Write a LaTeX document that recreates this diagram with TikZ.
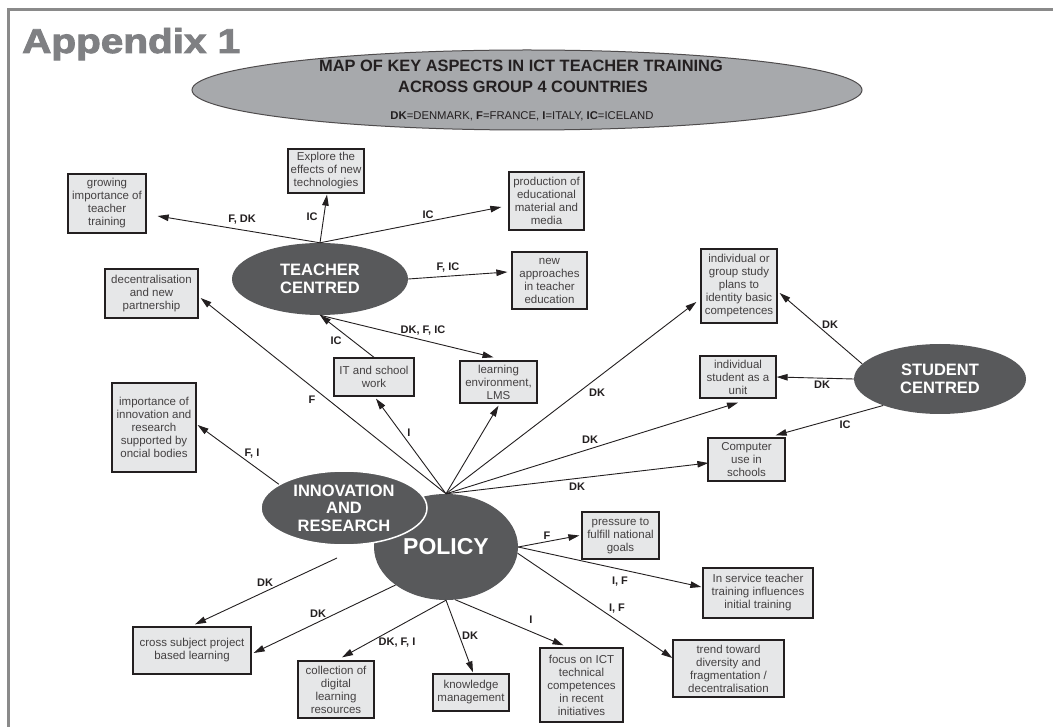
\documentclass[tikz,border=0pt]{standalone}
\usepackage{fontspec}
\setmainfont{Liberation Sans}
\newfontfamily\heavyfont[FakeBold=2.5]{Liberation Sans Bold}
\usetikzlibrary{arrows.meta,calc,shapes.geometric}
\definecolor{framegray}{HTML}{8A8A8A}
\definecolor{boxfill}{HTML}{E6E7E8}
\definecolor{ink}{HTML}{231F20}
\definecolor{ovalgray}{HTML}{58595B}
\definecolor{hdrgray}{HTML}{A7A9AC}
\definecolor{apxgray}{HTML}{7F8083}
\begin{document}
\begin{tikzpicture}[x=1pt,y=-1pt,
  box/.style={draw=ink, line width=1.3pt, fill=boxfill, align=center, inner sep=0pt,
    text=ink!85, font=\fontsize{11.5}{13}\selectfont},
  oval/.style={ellipse, fill=ovalgray, draw=none, text=white, align=center, inner sep=0pt,
    font=\fontsize{16.5}{17.5}\selectfont\bfseries},
  lbl/.style={font=\fontsize{11}{12}\selectfont\bfseries, text=ink, inner sep=0pt},
  arr/.style={draw=ink, line width=0.9pt, -{Triangle[length=11pt,width=6.5pt]}},
]
\useasboundingbox (0,0) rectangle (1053,727);
\fill[white] (0,0) rectangle (1053,727);
\draw[framegray, line width=3pt] (8,727) -- (8,10) -- (1053,10);

% header
\node[anchor=base west, text=apxgray, inner sep=0pt] (apx) at (22,53)
  {\resizebox{218pt}{25pt}{\heavyfont Appendix 1}};
\node[ellipse, fill=hdrgray, draw=ink!80, line width=1pt, minimum width=670pt,
  minimum height=80pt, inner sep=0pt] (hdr) at (527,90) {};
\node[anchor=base, text=ink, inner sep=0pt, font=\fontsize{16.4}{18}\selectfont\bfseries]
  (t1) at (521,72) {MAP OF KEY ASPECTS IN ICT TEACHER TRAINING};
\node[anchor=base, text=ink, inner sep=0pt, font=\fontsize{16.4}{18}\selectfont\bfseries]
  (t2) at (523,93) {ACROSS GROUP 4 COUNTRIES};
\node[anchor=base, text=ink, inner sep=0pt, font=\fontsize{11.3}{13}\selectfont]
  (t3) at (522,120) {\textbf{DK}=DENMARK, \textbf{F}=FRANCE, \textbf{I}=ITALY, \textbf{IC}=ICELAND};

% boxes
\node[box, minimum width=78pt, minimum height=59pt] (grow) at (107,203.5)
  {growing\\importance of\\teacher\\training};
\node[box, minimum width=76pt, minimum height=44pt] (explore) at (326,171)
  {Explore the\\effects of new\\technologies};
\node[box, minimum width=75pt, minimum height=58pt] (prod) at (546.5,201)
  {production of\\educational\\material and\\media};
\node[box, minimum width=75pt, minimum height=57pt] (newapp) at (549.5,280.5)
  {new\\approaches\\in teacher\\education};
\node[box, minimum width=93pt, minimum height=49pt] (decent) at (151.5,293.5)
  {decentralisation\\and new\\partnership};
\node[box, minimum width=80pt, minimum height=38pt] (itw) at (374,377)
  {IT and school\\work};
\node[box, minimum width=77pt, minimum height=42pt] (learn) at (498.5,382)
  {learning\\environment,\\LMS};
\node[box, minimum width=84pt, minimum height=89pt] (imp) at (154,427.5)
  {importance of\\innovation and\\research\\supported by\\oncial bodies};
\node[box, minimum width=76pt, minimum height=74pt] (group) at (739,286)
  {individual or\\group study\\plans to\\identity basic\\competences};
\node[box, minimum width=76pt, minimum height=42pt] (indiv) at (738,377)
  {individual\\student as a\\unit};
\node[box, minimum width=77pt, minimum height=43pt] (comp) at (746.5,459.5)
  {Computer\\use in\\schools};
\node[box, minimum width=77pt, minimum height=47pt] (press) at (620.5,535.5)
  {pressure to\\fulfill national\\goals};
\node[box, minimum width=110pt, minimum height=50pt] (inserv) at (758,593)
  {In service teacher\\training influences\\initial training};
\node[box, minimum width=111pt, minimum height=57pt] (trend) at (728.5,668.5)
  {trend toward\\diversity and\\fragmentation /\\decentralisation};
\node[box, minimum width=83pt, minimum height=74pt] (focus) at (581.5,685)
  {focus on ICT\\technical\\competences\\in recent\\initiatives};
\node[box, minimum width=76pt, minimum height=37pt] (know) at (471,692.5)
  {knowledge\\management};
\node[box, minimum width=76pt, minimum height=57pt] (coll) at (336,689.5)
  {collection of\\digital\\learning\\resources};
\node[box, minimum width=118pt, minimum height=47pt] (cross) at (192,650.5)
  {cross subject project\\based learning};

% ovals
\node[oval, minimum width=176pt, minimum height=72pt] (T) at (320,279) {TEACHER\\CENTRED};
\node[oval, minimum width=172pt, minimum height=70pt] (S) at (940,379) {STUDENT\\CENTRED};
\node[oval, minimum width=144pt, minimum height=106pt,
  font=\fontsize{23}{25}\selectfont\bfseries] (P) at (446,547) {POLICY};
\node[oval, draw=white, line width=1.5pt, minimum width=166pt, minimum height=74pt]
  (N) at (344,508) {INNOVATION\\AND\\RESEARCH};

% connectors
\draw[arr] (T.north) -- ($(grow.east)+(11,12.5)$);
\draw[arr] (T.north) -- ($(explore.south)+(1,1)$);
\draw[arr] (T.north) -- ($(prod.west)+(-7,6)$);
\draw[arr] (T.east) -- ($(newapp.west)+(-4,-8.5)$);
\draw[arr] (T.south) -- ($(learn.north)+(-5,-3)$);
\draw[arr] (itw.north) -- (T.south);
\draw[arr] (P.north) -- ($(decent.east)+(2,4.5)$);
\draw[arr] (P.north) -- ($(itw.south)+(2,2)$);
\draw[arr] (P.north) -- ($(learn.south)+(0,2)$);
\draw[arr] (P.north) -- ($(group.west)+(-4,16)$);
\draw[arr] (P.north) -- ($(indiv.south)+(0,4)$);
\draw[arr] (P.north) -- ($(comp.west)+(1,3.5)$);
\draw[arr] (S.169) -- ($(group.east)+(2,7)$);
\draw[arr] (S.west) -- (indiv.east);
\draw[arr] (S.205) -- ($(comp.north east)+(-10,-2)$);
\draw[arr] (N.160) -- ($(imp.east)+(1,-2.5)$);
\draw[arr] (P.east) -- ($(press.west)+(-2,0)$);
\draw[arr] (P.east) -- ($(inserv.west)+(-1,-6)$);
\draw[arr] (P.-5) -- ($(trend.west)+(0,-10.5)$);
\draw[arr] (P.-80) -- ($(focus.north)+(-18,-2)$);
\draw[arr] (P.south) -- ($(know.north)+(2,-1)$);
\draw[arr] (P.south) -- ($(coll.north)+(6,-3)$);
\draw[arr] (P.217) -- ($(cross.east)+(2,2.5)$);
\coordinate (dkstart) at (337,558);
\draw[arr] (dkstart) -- ($(cross.north)+(3,-2)$);

% labels
\node[lbl] (l1) at (242,220) {F, DK};
\node[lbl] (l2) at (312,217) {IC};
\node[lbl] (l3) at (428,215) {IC};
\node[lbl] (l4) at (448,268) {F, IC};
\node[lbl] (l5) at (336,341) {IC};
\node[lbl] (l6) at (423,331) {DK, F, IC};
\node[lbl] (l7) at (312,400) {F};
\node[lbl] (l8) at (409,433) {I};
\node[lbl] (l9) at (252,454) {F, I};
\node[lbl] (l10) at (597,393) {DK};
\node[lbl] (l11) at (590,440) {DK};
\node[lbl] (l12) at (577,487) {DK};
\node[lbl] (l13) at (830,325) {DK};
\node[lbl] (l14) at (822,385) {DK};
\node[lbl] (l15) at (845,425) {IC};
\node[lbl] (l16) at (547,536) {F};
\node[lbl] (l17) at (620,582) {I, F};
\node[lbl] (l18) at (617,609) {I, F};
\node[lbl] (l19) at (531,620) {I};
\node[lbl] (l20) at (470,636) {DK};
\node[lbl] (l21) at (397,643) {DK, F, I};
\node[lbl] (l22) at (318,614) {DK};
\node[lbl] (l23) at (265,583) {DK};
\end{tikzpicture}
\end{document}
